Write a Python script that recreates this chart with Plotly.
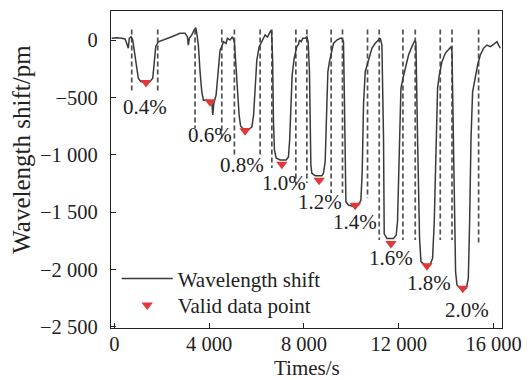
import plotly.graph_objects as go

# ---------------- data ----------------
time_s = [-110, 101, 312, 452, 523, 591, 633, 705, 777, 832, 916, 1013, 1115, 1296, 1507, 1621, 1689, 1748,
          1858, 2069, 2423, 2774, 2985, 3082, 3124, 3166, 3268, 3365, 3437, 3479, 3546, 3618, 3690, 3758,
          3969, 4112, 4154, 4197, 4294, 4391, 4463, 4535, 4602, 4716, 4771, 4885, 4982, 5066, 5126, 5193,
          5265, 5328, 5434, 5687, 5801, 5877, 5940, 6012, 6109, 6223, 6320, 6362, 6460, 6531, 6595, 6637,
          6679, 6713, 6755, 6827, 6996, 7250, 7346, 7397, 7448, 7503, 7587, 7659, 7701, 7769, 7811, 7883,
          7954, 8051, 8123, 8178, 8233, 8292, 8334, 8474, 8756, 8824, 8896, 8967, 9010, 9077, 9179, 9246,
          9390, 9529, 9601, 9668, 9711, 9770, 9879, 10091, 10302, 10403, 10458, 10513, 10585, 10682, 10766,
          10867, 11007, 11146, 11217, 11289, 11357, 11386, 11500, 11779, 11893, 11948, 12033, 12092, 12176,
          12273, 12413, 12556, 12666, 12717, 12725, 12793, 12877, 12936, 13118, 13329, 13426, 13498, 13570,
          13637, 13709, 13823, 13962, 14101, 14203, 14245, 14313, 14397, 14456, 14667, 14849, 14934, 14989,
          15048, 15115, 15229, 15326, 15440, 15579, 15723, 15862, 16001, 16145, 16212, 16284]
shift_pm = [15, 20, 15, 9, -29, -72, 15, 29, 0, -72, -218, -334, -362, -366, -362, -334, -189, -58,
            -15, 0, 29, 58, 58, 29, -44, 15, 44, 87, 107, 61, -44, -276, -451, -523,
            -532, -532, -654, -552, -480, -218, -87, -58, -15, -29, 15, 0, 29, -15, -189, -451,
            -654, -750, -776, -776, -759, -654, -392, -174, -61, -17, 17, 44, 26, 61, 78, 70,
            -174, -698, -959, -1029, -1046, -1046, -1020, -872, -523, -305, -160, -102, -58, -38, 0, -15,
            15, 15, 29, -15, -276, -1090, -1162, -1183, -1183, -1162, -1061, -567, -276, -189, -102, -29,
            0, 15, 15, -15, -567, -1410, -1439, -1452, -1439, -1395, -1148, -567, -276, -203, -131,
            -72, -29, 0, 15, -44, -857, -1690, -1730, -1730, -1700, -1580, -857, -421, -334,
            -247, -131, -58, -9, -17, -44, -857, -1729, -1933, -1962, -1956, -1903, -1584, -857,
            -421, -305, -189, -116, -87, -58, -102, -1148, -2020, -2136, -2180, -2165, -2078, -1584,
            -857, -451, -305, -218, -131, -72, -44, -58, -38, -15, -44, -72]

strain_labels = ["0.4%", "0.6%", "0.8%", "1.0%", "1.2%", "1.4%", "1.6%", "1.8%", "2.0%"]
valid_t = [1338, 4040, 5518, 7068, 8643, 10163, 11670, 13190, 14701]
valid_shift = [-371, -539, -792, -1083, -1222, -1440, -1775, -1969, -2164]
label_t = [1283, 4040, 5379, 7165, 8685, 10150, 11661, 13287, 14878]
label_shift = [-584, -828, -1090, -1247, -1410, -1584, -1904, -2122, -2354]

dash_t = [735, 1832, 3407, 4534, 5066, 6151, 6646, 7659, 8123, 9149, 9626, 10682,
          11176, 12176, 12696, 13751, 14245, 15368]
dash_top = [92] * 18
dash_bottom = [-460, -460, -767, -872, -1003, -1003, -1116, -1264, -1247, -1334, -1334, -1378,
               -1744, -1744, -1744, -1744, -1744, -1770]

x_tick_vals = [0, 4000, 8000, 12000, 16000]
x_tick_text = ["0", "4 000", "8 000", "12 000", "16 000"]
y_tick_vals = [0, -500, -1000, -1500, -2000, -2500]
y_tick_text = ["0", "\u2212500", "\u22121 000", "\u22121 500", "\u22122 000", "\u22122 500"]

# ---------------- figure ----------------
FONT = "Liberation Serif, Times New Roman, serif"
INK = "#222222"

dx, dy = [], []
for t, a, b in zip(dash_t, dash_top, dash_bottom):
    dx += [t, t, None]
    dy += [a, b, None]

fig = go.Figure()
fig.add_trace(go.Scatter(x=dx, y=dy, mode="lines", showlegend=False, hoverinfo="skip",
                         line=dict(color="#505050", width=1.7, dash="5px,3px")))
fig.add_trace(go.Scatter(x=time_s, y=shift_pm, mode="lines", name="Wavelength shift",
                         legend="legend", line=dict(color="#3a3a3a", width=1.5)))
fig.add_trace(go.Scatter(x=valid_t, y=valid_shift, mode="markers", name="Valid data point",
                         legend="legend2",
                         marker=dict(symbol="triangle-down", size=10, color="#e2383a",
                                     line=dict(width=0))))

for lab, lt, ls in zip(strain_labels, label_t, label_shift):
    fig.add_annotation(x=lt, y=ls, text=lab, showarrow=False, xanchor="center", yanchor="middle",
                       font=dict(family=FONT, size=21, color=INK))

fig.add_annotation(xref="paper", yref="paper", x=-0.228, y=0.565, text="Wavelength shift/pm",
                   textangle=-90, showarrow=False, xanchor="center", yanchor="middle",
                   font=dict(family=FONT, size=25, color=INK))
fig.add_annotation(xref="paper", yref="paper", x=0.5, y=-0.125, text="Times/s",
                   showarrow=False, xanchor="center", yanchor="middle",
                   font=dict(family=FONT, size=21, color=INK))

axis_common = dict(showgrid=False, zeroline=False, showline=True, mirror=True, automargin=False,
                   linecolor=INK, linewidth=1.3, ticks="inside", ticklen=5, tickwidth=1.3,
                   tickcolor=INK, tickfont=dict(family=FONT, size=20.5, color=INK))

legend_common = dict(xanchor="left", yanchor="top", bgcolor="rgba(0,0,0,0)", borderwidth=0,
                     itemwidth=51, font=dict(family=FONT, size=21, color=INK))

fig.update_layout(
    width=530, height=380,
    margin=dict(l=111, r=28, t=11, b=52, autoexpand=False),
    paper_bgcolor="white", plot_bgcolor="white",
    font=dict(family=FONT, size=21, color=INK),
    xaxis=dict(range=[-139, 16355], tickvals=x_tick_vals, ticktext=x_tick_text,
               ticklabelstandoff=-3, **axis_common),
    yaxis=dict(range=[-2511, 253], tickvals=y_tick_vals, ticktext=y_tick_text,
               ticklabelstandoff=8, **axis_common),
    legend=dict(x=0.0146, y=0.22, **legend_common),
    legend2=dict(x=0.0146, y=0.136, **legend_common),
    showlegend=True,
)

fig.write_html("out.html", config={"displayModeBar": False},
               post_script="document.body.style.margin='0';document.body.style.overflow='hidden';")
